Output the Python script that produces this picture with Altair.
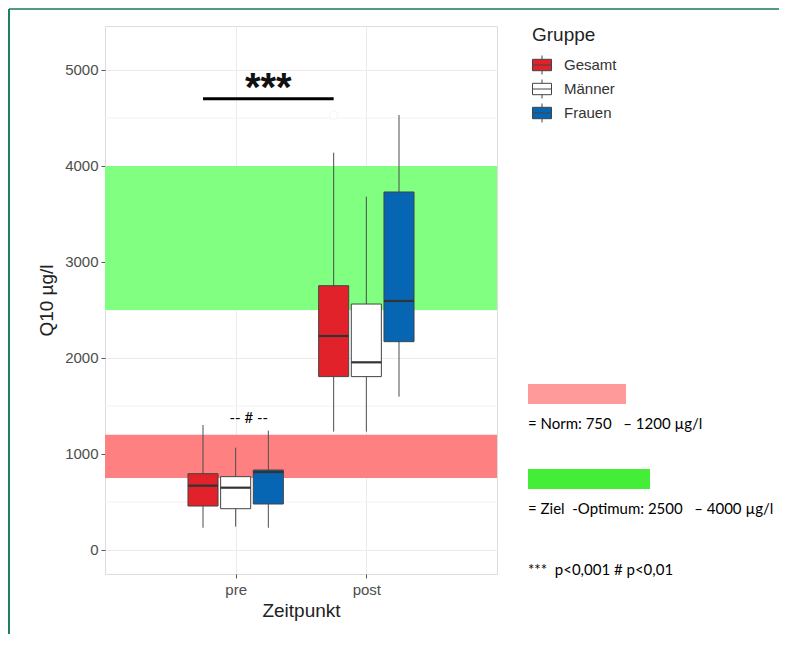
import altair as alt
import pandas as pd

# ---------------- data ----------------
groups = ["Gesamt", "Männer", "Frauen"]
timepoints = ["pre", "post"]
# rows: timepoint, columns: group
whisker_low = [[232, 243, 232], [1233, 1233, 1597]]
q1 = [[458, 430, 479], [1806, 1806, 2170]]
median = [[670, 649, 812], [2229, 1955, 2594]]
q3 = [[795, 764, 833], [2753, 2562, 3729]]
whisker_high = [[1302, 1066, 1243], [4139, 3680, 4531]]

outlier_time = ["post"]
outlier_group = ["Gesamt"]
outlier_value = [4530]

norm_range = [750, 1200]
optimum_range = [2500, 4000]
y_ticks = [0, 1000, 2000, 3000, 4000, 5000]
minor_grid = [500, 1500, 2500, 3500, 4500]
sig_value = 4700
hash_value = 1375

note_norm = "= Norm: 750\u00a0\u00a0 \u2013 1200 µg/l"
note_opt = "= Ziel\u00a0 -Optimum: 2500\u00a0\u00a0 \u2013 4000 µg/l"
note_p = "***\u00a0\u00a0p<0,001 # p<0,01"

# ---------------- tables ----------------
rows = []
for ti, t in enumerate(timepoints):
    for gi, g in enumerate(groups):
        rows.append(dict(time=t, group=g, t=ti + 1, g=gi,
                         lower=whisker_low[ti][gi], q1=q1[ti][gi],
                         median=median[ti][gi], q3=q3[ti][gi],
                         upper=whisker_high[ti][gi]))
box_df = pd.DataFrame(rows)
out_df = pd.DataFrame(dict(t=[timepoints.index(v) + 1 for v in outlier_time],
                           g=[groups.index(v) for v in outlier_group],
                           value=outlier_value))
sig_df = pd.DataFrame(dict(t1=[1], t2=[2], g=[0], y=[sig_value], label=["***"]))

RED = "#E1222A"
BLUE = "#0766B3"
FONT = "Liberation Sans"

xscale = alt.Scale(domain=[0, 3], nice=False, zero=False)
yscale = alt.Scale(domain=[-250, 5458], nice=False, zero=False)

xaxis = alt.Axis(values=[1, 2], labelExpr="datum.value == 1 ? 'pre' : 'post'",
                 title="Zeitpunkt", grid=True, gridColor="#ebebeb", domain=False,
                 tickColor="#555555", tickSize=4, labelFontSize=15, labelColor="#4d4d4d",
                 labelPadding=4, titleFontSize=19, titleFontWeight="normal",
                 titleColor="#222222", titlePadding=4)
yaxis = alt.Axis(values=y_ticks, format="d", title="Q10 µg/l", grid=True, gridColor="#ebebeb",
                 domain=False, tickColor="#555555", tickSize=4, labelFontSize=15,
                 labelColor="#4d4d4d", labelPadding=3, titleFontSize=19,
                 titleFontWeight="normal", titleColor="#222222", titlePadding=8)


def X(field, **kw):
    return alt.X(field, scale=xscale, axis=xaxis, **kw)


def Y(field, **kw):
    return alt.Y(field, scale=yscale, axis=yaxis, **kw)


pos_calc = dict(pos="datum.t + (datum.g - 1) * 0.25")

base = alt.Chart(box_df).transform_calculate(**pos_calc).transform_calculate(
    left="datum.pos - 0.115", right="datum.pos + 0.115")

minor = alt.Chart(pd.DataFrame({"v": minor_grid})).mark_rule(
    color="#f3f3f3", strokeWidth=1).encode(y=Y("v:Q"))


def band(rng, color):
    return alt.Chart(pd.DataFrame({"lo": [rng[0]], "hi": [rng[1]]})).mark_rect(
        color=color).encode(
        x=alt.X(datum=0, scale=xscale, axis=xaxis), x2=alt.X2(datum=3),
        y=Y("lo:Q"), y2="hi:Q")


band_norm = band(norm_range, "#FF8080")
band_opt = band(optimum_range, "#80FF80")

whiskers = base.mark_rule(color="#4d4d4d", strokeWidth=1).encode(
    x=X("pos:Q"), y=Y("lower:Q"), y2="upper:Q")

boxes = base.mark_rect(stroke="#444444", strokeWidth=1).encode(
    x=X("left:Q"), x2="right:Q",
    y=Y("q1:Q"), y2="q3:Q",
    fill=alt.Fill("group:N", scale=alt.Scale(domain=groups, range=[RED, "#ffffff", BLUE]),
                  legend=alt.Legend(
                      title="Gruppe", orient="none", legendX=427, legendY=0,
                      symbolType="M-1,-0.6H1V0.6H-1Z M-1,0H1 M0,-0.6V-1 M0,0.6V1",
                      symbolSize=361, symbolStrokeColor="#444444", symbolStrokeWidth=1,
                      labelFontSize=15, labelColor="#333333", labelOffset=12,
                      titleFontSize=19, titleFontWeight="normal", titleColor="#222222",
                      titlePadding=10, rowPadding=0, padding=0)))

medians = base.mark_rule(color="#333333", strokeWidth=2.2).encode(
    x=X("left:Q"), x2="right:Q", y=Y("median:Q"))

outliers = alt.Chart(out_df).transform_calculate(**pos_calc).mark_point(
    filled=True, fill="white", stroke="#f6f6f6", strokeWidth=1, size=70, opacity=1).encode(
    x=X("pos:Q"), y=Y("value:Q"))

sig_base = alt.Chart(sig_df).transform_calculate(
    xa="datum.t1 + (datum.g - 1) * 0.25", xb="datum.t2 + (datum.g - 1) * 0.25").transform_calculate(
    xm="(datum.xa + datum.xb) / 2")
sig_line = sig_base.mark_rule(color="black", strokeWidth=3).encode(
    x=X("xa:Q"), x2="xb:Q", y=Y("y:Q"))
sig_text = sig_base.mark_text(fontSize=40, fontWeight="bold", font=FONT, color="#111111",
                              baseline="alphabetic", dy=2).encode(
    x=X("xm:Q"), y=Y("y:Q"), text="label:N")

hash_text = alt.Chart(pd.DataFrame({"label": ["-- # --"]})).mark_text(
    font="Lato", fontSize=15, color="#000000", baseline="middle").encode(
    x=alt.X(datum=1.1, scale=xscale, axis=xaxis),
    y=alt.Y(datum=hash_value, scale=yscale, axis=yaxis), text="label:N")

# ---------------- right-hand notes & frame ----------------
note_layers = []
for label, yy in zip([note_norm, note_opt, note_p], [398, 483, 544]):
    note_layers.append(alt.Chart(pd.DataFrame({"label": [label]})).mark_text(
        font="Lato", fontSize=15, color="#000000", align="left", baseline="middle").encode(
        x=alt.value(423), y=alt.value(yy), text="label:N"))

swatch_norm = alt.Chart(pd.DataFrame({"a": [0]})).mark_rect(color="#FF9A9A").encode(
    x=alt.value(423), x2=alt.value(521), y=alt.value(358), y2=alt.value(378))
swatch_opt = alt.Chart(pd.DataFrame({"a": [0]})).mark_rect(color="#44EE38").encode(
    x=alt.value(423), x2=alt.value(545), y=alt.value(443), y2=alt.value(463))

frame_top = alt.Chart(pd.DataFrame({"a": [0]})).mark_rule(color="#4f9c85", strokeWidth=2).encode(
    x=alt.value(-96), x2=alt.value(674), y=alt.value(-17))
frame_left = alt.Chart(pd.DataFrame({"a": [0]})).mark_rule(color="#1f7f60", strokeWidth=2).encode(
    x=alt.value(-96), y=alt.value(-17), y2=alt.value(608))

chart = alt.layer(
    minor, band_opt, band_norm, whiskers, boxes, medians, outliers,
    sig_line, sig_text, hash_text, swatch_norm, swatch_opt, *note_layers,
    frame_top, frame_left
).properties(
    width=392, height=548,
    padding={"left": 97, "top": 18, "right": 282, "bottom": 60},
    autosize=alt.AutoSizeParams(type="none"),
).configure_view(stroke="#8a8a8a", strokeWidth=1).configure(font=FONT)

chart.save("out.html", embed_options={"renderer": "svg", "actions": False})
